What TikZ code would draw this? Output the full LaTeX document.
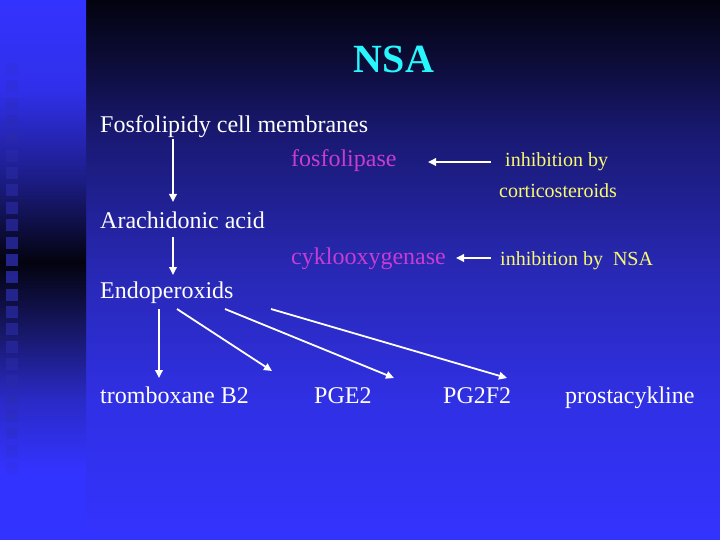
\documentclass[tikz,border=0pt]{standalone}
\usepackage{fontspec}
\setmainfont{Liberation Serif}
\usetikzlibrary{arrows.meta}
\definecolor{titlecyan}{RGB}{40,245,252}
\definecolor{enzmag}{RGB}{200,60,210}
\definecolor{inhyel}{RGB}{250,250,110}
\definecolor{sqblue}{RGB}{44,44,170}
% positions: bottom of path = 25bp, top = 75bp
\pgfdeclareverticalshading{mainbg}{100bp}{%
 rgb(0bp)=(0.2,0.2,1);
 rgb(25bp)=(0.2,0.2,1);
 rgb(37.96bp)=(0.188,0.188,0.894);
 rgb(50bp)=(0.157,0.157,0.706);
 rgb(62.5bp)=(0.098,0.098,0.451);
 rgb(69.44bp)=(0.047,0.047,0.216);
 rgb(75bp)=(0.012,0.012,0.06);
 rgb(100bp)=(0.012,0.012,0.06)}
\pgfdeclareverticalshading{stripbg}{100bp}{%
 rgb(0bp)=(0.2,0.2,1);
 rgb(25bp)=(0.2,0.2,1);
 rgb(31.48bp)=(0.2,0.2,1);
 rgb(37.96bp)=(0.165,0.165,0.78);
 rgb(44.44bp)=(0.09,0.09,0.40);
 rgb(50.74bp)=(0.012,0.012,0.06);
 rgb(58.33bp)=(0.11,0.11,0.52);
 rgb(66.67bp)=(0.188,0.188,0.92);
 rgb(75bp)=(0.2,0.2,1);
 rgb(100bp)=(0.2,0.2,1)}
\tikzset{
  txt/.style={anchor=base west,inner sep=0pt,text=white,font=\fontsize{24}{28}\selectfont},
  enz/.style={txt,text=enzmag},
  inh/.style={txt,text=inhyel,font=\fontsize{20}{24}\selectfont},
  arr/.style={draw=white,line width=1.8pt,-{Triangle[length=8pt,width=7.5pt]}},
  sq/.style={fill=sqblue}
}
\begin{document}
\begin{tikzpicture}[x=1pt,y=-1pt]
\useasboundingbox (0,0) rectangle (720,540);
% backgrounds
\shade[shading=mainbg] (85.5,0) rectangle (720,540);
\shade[shading=stripbg] (0,0) rectangle (86,540);
\foreach \i in {0,...,23}{
  \pgfmathsetmacro{\op}{0.85-0.75*abs(\i-11.5)/11.5}
  \fill[sq,fill opacity=\op] (6,63+17.35*\i) rectangle (18,75+17.35*\i);
}
% title
\node[anchor=base,inner sep=0pt,text=titlecyan,font=\fontsize{40}{44}\bfseries] (title) at (394,73) {NSA};
% main chain
\node[txt] (fos) at (100,133) {Fosfolipidy cell membranes};
\node[txt] (ara) at (100,229) {Arachidonic acid};
\node[txt] (endo) at (100,298) {Endoperoxids};
\node[enz] (fpase) at (291,167) {fosfolipase};
\node[enz] (cox) at (291,264) {cyklooxygenase};
\node[inh] (inh1) at (505,167) {inhibition by};
\node[inh] (cort) at (499,197) {corticosteroids};
\node[inh] (inh2) at (500,265) {inhibition by\ \ NSA};
\node[txt] (trom) at (100,403) {tromboxane B2};
\node[txt] (pge) at (314,403) {PGE2};
\node[txt] (pgf) at (443,403) {PG2F2};
\node[txt] (pros) at (565,403) {prostacykline};
% connector ends
\coordinate (v1s) at (173,139); \coordinate (v1e) at (173,202);
\coordinate (v2s) at (173,237); \coordinate (v2e) at (173,275);
\coordinate (i1s) at (491,162); \coordinate (i1e) at (428,162);
\coordinate (i2s) at (491,258); \coordinate (i2e) at (456,258);
\coordinate (e1s) at (159,309); \coordinate (e1e) at (159,378);
\coordinate (e2s) at (177,309); \coordinate (e2e) at (272,371);
\coordinate (e3s) at (225,309); \coordinate (e3e) at (394,378);
\coordinate (e4s) at (271,309); \coordinate (e4e) at (507,378);
\draw[arr] (v1s) -- (v1e);
\draw[arr] (v2s) -- (v2e);
\draw[arr] (i1s) -- (i1e);
\draw[arr] (i2s) -- (i2e);
\draw[arr] (e1s) -- (e1e);
\draw[arr] (e2s) -- (e2e);
\draw[arr] (e3s) -- (e3e);
\draw[arr] (e4s) -- (e4e);
\end{tikzpicture}
\end{document}
